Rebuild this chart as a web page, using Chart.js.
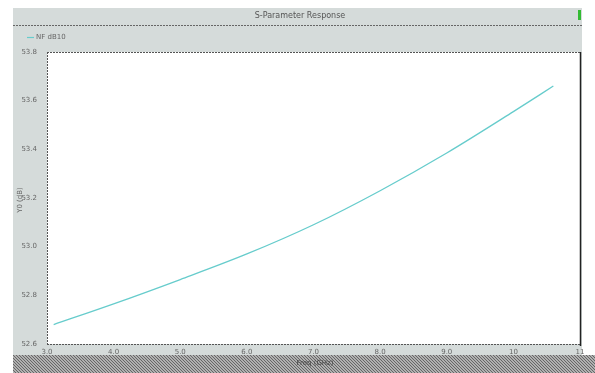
<!DOCTYPE html>
<html>
<head>
<meta charset="utf-8">
<script src="https://cdn.jsdelivr.net/npm/chart.js@4/dist/chart.umd.min.js"></script>
<style>
  html, body { margin:0; padding:0; background:#fff; }
  #wrap { width:595px; height:373px; position:relative; }
</style>
</head>
<body>
<div id="wrap"><canvas id="spChart" width="595" height="373"></canvas></div>
<script>
// data
const freqGHz = [3.1, 4.0, 5.0, 6.0, 7.0, 8.0, 9.0, 10.0, 10.6];
const nfDb = [52.68, 52.765, 52.865, 52.97, 53.09, 53.23, 53.385, 53.555, 53.66];
const xTicks = [3, 4, 5, 6, 7, 8, 9, 10, 11];
const yTicks = [52.6, 52.8, 53.0, 53.2, 53.4, 53.6, 53.8];
const seriesName = 'NF dB10';
const chartTitle = 'S-Parameter Response';

const lineColor = '#66cccc';
const panelColor = '#d5dbda';
const font = '"DejaVu Sans", sans-serif';

const frame = {
  id: 'frame',
  beforeDraw(chart) {
    const c = chart.ctx;
    c.save();
    // gray panel
    c.fillStyle = panelColor;
    c.fillRect(13, 8, 569, 350);
    // title bar
    c.strokeStyle = '#666';
    c.setLineDash([2, 1]);
    c.beginPath(); c.moveTo(13, 25.5); c.lineTo(582, 25.5); c.stroke();
    c.setLineDash([]);
    c.fillStyle = '#555';
    c.font = '8px ' + font;
    c.textAlign = 'center'; c.textBaseline = 'middle';
    c.fillText(chartTitle, 300, 16);
    c.fillStyle = '#33bb33';
    c.fillRect(578, 10, 3, 10);
    // legend
    c.strokeStyle = lineColor; c.lineWidth = 1.2;
    c.beginPath(); c.moveTo(27, 37.5); c.lineTo(34, 37.5); c.stroke();
    c.fillStyle = '#666'; c.textAlign = 'left';
    c.font = '7px ' + font;
    c.fillText(seriesName, 36, 37.5);
    // hatched footer
    const p = document.createElement('canvas');
    p.width = 3; p.height = 3;
    const pc = p.getContext('2d');
    pc.fillStyle = '#b0b0b0'; pc.fillRect(0, 0, 3, 3);
    pc.fillStyle = '#666666';
    pc.fillRect(0, 0, 1, 1); pc.fillRect(1, 1, 1, 1); pc.fillRect(2, 2, 1, 1);
    c.fillStyle = c.createPattern(p, 'repeat');
    c.fillRect(13, 355, 582, 18);
    // plot background
    const a = chart.chartArea;
    c.fillStyle = '#ffffff';
    c.fillRect(a.left, a.top, a.right - a.left, a.bottom - a.top);
    c.restore();
  },
  afterDraw(chart) {
    const c = chart.ctx, a = chart.chartArea;
    c.save();
    c.strokeStyle = '#555'; c.lineWidth = 1;
    c.setLineDash([2, 1]);
    c.beginPath();
    c.moveTo(a.left, a.top + 0.5); c.lineTo(a.right, a.top + 0.5);
    c.moveTo(a.left + 0.5, a.top); c.lineTo(a.left + 0.5, a.bottom);
    c.moveTo(a.left, a.bottom + 0.5); c.lineTo(a.right, a.bottom + 0.5);
    c.stroke();
    c.setLineDash([]);
    c.strokeStyle = '#222'; c.lineWidth = 1.5;
    c.beginPath(); c.moveTo(a.right + 0.5, a.top); c.lineTo(a.right + 0.5, a.bottom + 2); c.stroke();
    // axis titles
    c.fillStyle = '#444'; c.font = '7px ' + font;
    c.textAlign = 'center'; c.textBaseline = 'middle';
    c.fillText('Freq (GHz)', 315, 363);
    c.translate(20, 200); c.rotate(-Math.PI / 2);
    c.fillStyle = '#666';
    c.fillText('Y0 (dB)', 0, 0);
    c.restore();
  }
};

new Chart(document.getElementById('spChart').getContext('2d'), {
  type: 'line',
  data: {
    datasets: [{
      label: seriesName,
      data: freqGHz.map((f, i) => ({ x: f, y: nfDb[i] })),
      borderColor: lineColor,
      borderWidth: 1.3,
      pointRadius: 0,
      cubicInterpolationMode: 'monotone',
      fill: false
    }]
  },
  options: {
    responsive: false,
    animation: false,
    layout: { padding: { left: 0, right: 15, top: 52, bottom: 0 } },
    plugins: { legend: { display: false }, tooltip: { enabled: false } },
    scales: {
      x: {
        type: 'linear', min: 3, max: 11,
        afterBuildTicks: s => { s.ticks = xTicks.map(v => ({ value: v })); },
        afterFit: s => { s.height = 29; },
        border: { display: false },
        grid: { display: false, drawTicks: true, tickLength: 3 },
        ticks: {
          color: '#666', font: { family: font, size: 7 }, padding: 1, maxRotation: 0,
          callback: v => v >= 10 ? String(v) : v.toFixed(1)
        }
      },
      y: {
        type: 'linear', min: 52.6, max: 53.8,
        afterBuildTicks: s => { s.ticks = yTicks.map(v => ({ value: v })); },
        afterFit: s => { s.width = 47; },
        border: { display: false },
        grid: { display: false },
        ticks: {
          color: '#666', font: { family: font, size: 7 }, padding: 2,
          callback: v => v.toFixed(1)
        }
      }
    }
  },
  plugins: [frame]
});
</script>
</body>
</html>
